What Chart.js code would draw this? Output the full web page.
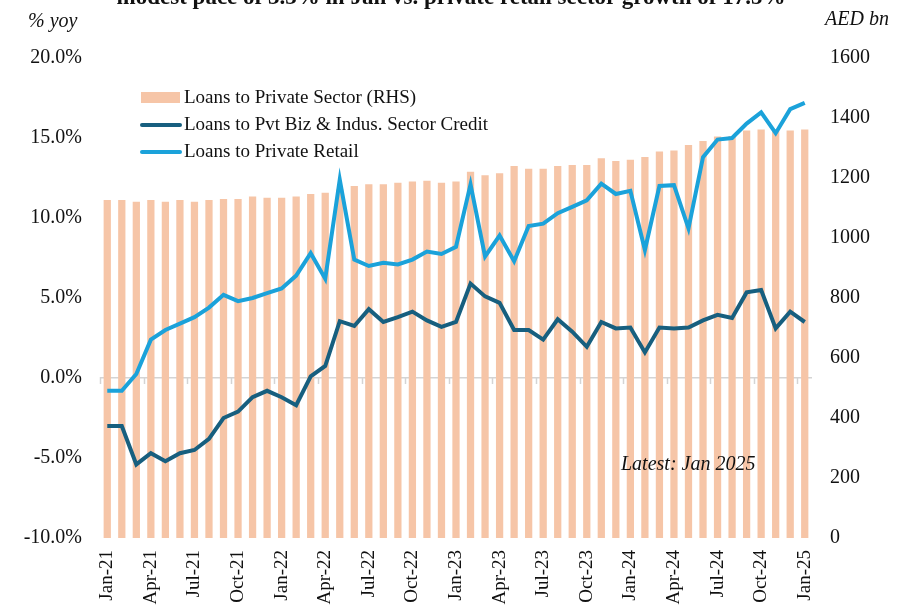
<!DOCTYPE html>
<html>
<head>
<meta charset="utf-8">
<script src="https://cdn.jsdelivr.net/npm/chart.js@4.4.1/dist/chart.umd.min.js"></script>
<style>
  html, body { margin: 0; padding: 0; background: #fff; overflow: hidden; }
  #wrap { position: relative; width: 902px; height: 616px; }
  #title {
    position: absolute; left: 0; top: -16px; width: 902px; text-align: center;
    font: bold 23px "Liberation Serif", "Times New Roman", serif; color: #111; white-space: nowrap;
  }
</style>
</head>
<body>
<div id="wrap">
  <canvas id="creditChart" width="902" height="616"></canvas>
  <div id="title">modest pace of 3.3% in Jan vs. private retail sector growth of 17.5%</div>
</div>
<script>
// Months Jan-21 .. Jan-25
const months = [
  'Jan-21','Feb-21','Mar-21','Apr-21','May-21','Jun-21','Jul-21','Aug-21','Sep-21','Oct-21','Nov-21','Dec-21',
  'Jan-22','Feb-22','Mar-22','Apr-22','May-22','Jun-22','Jul-22','Aug-22','Sep-22','Oct-22','Nov-22','Dec-22',
  'Jan-23','Feb-23','Mar-23','Apr-23','May-23','Jun-23','Jul-23','Aug-23','Sep-23','Oct-23','Nov-23','Dec-23',
  'Jan-24','Feb-24','Mar-24','Apr-24','May-24','Jun-24','Jul-24','Aug-24','Sep-24','Oct-24','Nov-24','Dec-24',
  'Jan-25'
];

// Loans to private sector, AED bn (RHS)
const privateLoans = [
  1127, 1127, 1121, 1127, 1121, 1127, 1121, 1127, 1130, 1130, 1138, 1134,
  1134, 1138, 1147, 1151, 1162, 1173, 1179, 1179, 1184, 1188, 1191, 1184,
  1188, 1221, 1209, 1216, 1240, 1231, 1231, 1240, 1243, 1243, 1266, 1257,
  1261, 1270, 1288, 1292, 1310, 1323, 1338, 1340, 1358, 1362, 1362, 1358,
  1362
];

// % yoy (LHS)
const bizCredit = [
  -3.0, -3.0, -5.4, -4.7, -5.2, -4.7, -4.5, -3.8, -2.5, -2.1, -1.2, -0.8,
  -1.2, -1.7, 0.1, 0.75, 3.55, 3.25, 4.3, 3.5, 3.8, 4.15, 3.6, 3.2,
  3.5, 5.9, 5.1, 4.7, 3.0, 3.0, 2.4, 3.67, 2.9, 1.95, 3.5, 3.1,
  3.15, 1.6, 3.15, 3.1, 3.15, 3.6, 3.95, 3.75, 5.35, 5.5, 3.1, 4.15,
  3.5
];

const retailLoans = [
  -0.8, -0.8, 0.25, 2.4, 3.0, 3.4, 3.8, 4.4, 5.2, 4.8, 5.0, 5.3,
  5.6, 6.4, 7.8, 6.2, 12.4, 7.4, 7.0, 7.2, 7.1, 7.4, 7.9, 7.75,
  8.2, 12.1, 7.6, 8.9, 7.3, 9.5, 9.65, 10.3, 10.7, 11.1, 12.15, 11.5,
  11.7, 8.0, 12.0, 12.05, 9.35, 13.8, 14.9, 15.0, 15.9, 16.6, 15.3, 16.8,
  17.2
];

const pctTicks = [-10, -5, 0, 5, 10, 15, 20];
const aedTicks = [0, 200, 400, 600, 800, 1000, 1200, 1400, 1600];

const serif = '"Liberation Serif", "Times New Roman", serif';
const peach = '#F6C5A7';
const darkBlue = '#175F7F';
const lightBlue = '#1BA2DA';

// extra text, legend and the small tick marks on the 0% line
const decorations = {
  id: 'decorations',
  afterDatasetsDraw(chart) {
    const { ctx, scales } = chart;
    const x = scales.x, y = scales.y;
    const zeroY = y.getPixelForValue(0);
    const step = x.width / months.length;
    ctx.save();
    ctx.strokeStyle = '#d4d4d4';
    ctx.lineWidth = 1.5;
    for (let i = 0; i < months.length; i += 3) {
      const px = Math.round(x.getPixelForValue(i) - step / 2) + 0.5;
      ctx.beginPath();
      ctx.moveTo(px, zeroY - 1);
      ctx.lineTo(px, zeroY + 6);
      ctx.stroke();
    }

    // legend
    const ds = chart.data.datasets;
    const rows = [97, 124, 151];
    ctx.font = '19px ' + serif;
    ctx.textBaseline = 'middle';
    ds.forEach((d, i) => {
      const ry = rows[i];
      if (d.type === 'bar') {
        ctx.fillStyle = d.backgroundColor;
        ctx.fillRect(141, ry - 5, 39, 11);
      } else {
        ctx.strokeStyle = d.borderColor;
        ctx.lineWidth = 4;
        ctx.lineCap = 'round';
        ctx.beginPath();
        ctx.moveTo(142, ry + 1);
        ctx.lineTo(180, ry + 1);
        ctx.stroke();
      }
      ctx.fillStyle = '#111';
      ctx.textAlign = 'left';
      ctx.fillText(d.label, 184, ry + 1);
    });

    // axis units and note
    ctx.fillStyle = '#111';
    ctx.font = 'italic 20px ' + serif;
    ctx.textAlign = 'left';
    ctx.fillText('% yoy', 28, 22);
    ctx.textAlign = 'right';
    ctx.fillText('AED bn', 889, 20);
    ctx.font = 'italic 20px ' + serif;
    ctx.textAlign = 'left';
    ctx.fillText('Latest: Jan 2025', 621, 465);
    ctx.restore();
  }
};

const ctx = document.getElementById('creditChart').getContext('2d');
new Chart(ctx, {
  data: {
    labels: months,
    datasets: [
      {
        type: 'bar',
        label: 'Loans to Private Sector (RHS)',
        data: privateLoans,
        yAxisID: 'y1',
        backgroundColor: peach,
        barPercentage: 0.5,
        categoryPercentage: 1.0,
        order: 3
      },
      {
        type: 'line',
        label: 'Loans to Pvt Biz & Indus. Sector Credit',
        data: bizCredit,
        yAxisID: 'y',
        borderColor: darkBlue,
        borderWidth: 4,
        pointRadius: 0,
        tension: 0,
        order: 2
      },
      {
        type: 'line',
        label: 'Loans to Private Retail',
        data: retailLoans,
        yAxisID: 'y',
        borderColor: lightBlue,
        borderWidth: 4,
        pointRadius: 0,
        tension: 0,
        order: 1
      }
    ]
  },
  options: {
    responsive: false,
    animation: false,
    layout: { padding: { top: 58, left: 0, right: 0, bottom: 0 } },
    plugins: {
      legend: { display: false },
      tooltip: { enabled: false }
    },
    scales: {
      x: {
        position: 'bottom',
        offset: true,
        grid: { display: false },
        border: { display: false },
        ticks: {
          autoSkip: false,
          maxRotation: 90,
          minRotation: 90,
          padding: 4,
          color: '#111',
          font: { family: serif, size: 19 },
          callback: (v, i) => (i % 3 === 0 ? months[i] : '')
        },
        afterFit: s => { s.height = 78; }
      },
      y: {
        position: 'left',
        min: -10,
        max: 20,
        afterBuildTicks: s => { s.ticks = pctTicks.map(v => ({ value: v })); },
        grid: {
          drawTicks: false,
          lineWidth: 1.5,
          color: c => (c.tick && c.tick.value === 0 ? '#d4d4d4' : 'rgba(0,0,0,0)')
        },
        border: { display: false },
        ticks: {
          padding: 18,
          color: '#111',
          font: { family: serif, size: 20 },
          callback: v => v.toFixed(1) + '%'
        },
        afterFit: s => { s.width = 100; }
      },
      y1: {
        position: 'right',
        min: 0,
        max: 1600,
        afterBuildTicks: s => { s.ticks = aedTicks.map(v => ({ value: v })); },
        grid: { display: false, drawTicks: false },
        border: { display: false },
        ticks: {
          padding: 18,
          color: '#111',
          font: { family: serif, size: 20 },
          callback: v => String(v)
        },
        afterFit: s => { s.width = 90; }
      }
    }
  },
  plugins: [decorations]
});
</script>
</body>
</html>
